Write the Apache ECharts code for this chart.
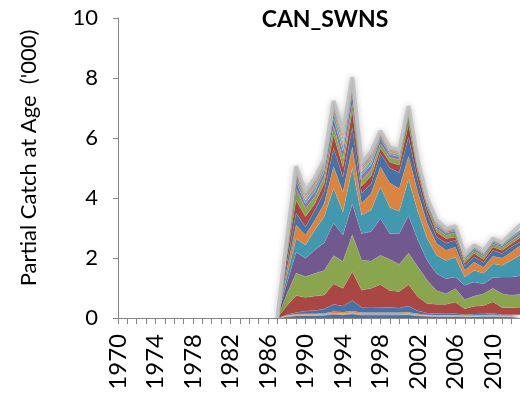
<!DOCTYPE html>
<html>
<head>
<meta charset="utf-8">
<script src="https://cdn.jsdelivr.net/npm/echarts@6/dist/echarts.min.js"></script>
<style>
  html, body { margin: 0; padding: 0; background: #fff; }
  #chart { width: 520px; height: 399px; }
</style>
</head>
<body>
<div id="chart"></div>
<script>
// Partial catch at age ('000 fish), Canada - SW Nova Scotia, by year
const title = 'CAN_SWNS';
const yAxisTitle = "Partial Catch at Age  ('000)";
const firstYear = 1970;
const lastYear = 2013;
const firstDataYear = 1987;   // age values below run 1987 .. 2013

const yTicks = { min: 0, max: 10, step: 2 };

const age1  = [0, 0.04, 0.07, 0.08, 0.08, 0.09, 0.12, 0.11, 0.13, 0.10, 0.10, 0.10, 0.10, 0.10, 0.11, 0.07, 0.06, 0.05, 0.05, 0.05, 0.04, 0.04, 0.05, 0.05, 0.04, 0.04, 0.04];
const age2  = [0, 0.01, 0.01, 0.01, 0.01, 0.01, 0.02, 0.01, 0.02, 0.01, 0.01, 0.01, 0.01, 0.01, 0.01, 0.01, 0.01, 0.01, 0.01, 0.01, 0, 0.01, 0.01, 0.01, 0, 0, 0.01];
const age3  = [0, 0.01, 0.01, 0.01, 0.01, 0.01, 0.01, 0.01, 0.01, 0.01, 0.01, 0.01, 0.01, 0.01, 0.01, 0.01, 0.01, 0, 0.01, 0.01, 0.01, 0.01, 0, 0.01, 0.01, 0.01, 0.01];
const age4  = [0, 0, 0.01, 0.01, 0.01, 0.01, 0.01, 0.01, 0.01, 0.01, 0.01, 0.01, 0.01, 0.01, 0.01, 0.01, 0, 0.01, 0, 0.01, 0.01, 0, 0.01, 0.01, 0.01, 0.01, 0];
const age5  = [0, 0.01, 0.01, 0.01, 0.01, 0.01, 0.01, 0.01, 0.01, 0.01, 0.01, 0.01, 0.01, 0.01, 0.01, 0.01, 0.01, 0.01, 0.01, 0, 0.01, 0.01, 0.01, 0.01, 0.01, 0.01, 0.01];
const age6  = [0, 0.01, 0.02, 0.02, 0.02, 0.03, 0.05, 0.05, 0.05, 0.04, 0.04, 0.04, 0.04, 0.04, 0.04, 0.03, 0.02, 0.02, 0.02, 0.02, 0.02, 0.02, 0.02, 0.02, 0.02, 0.02, 0.02];
const age7  = [0, 0.03, 0.05, 0.09, 0.11, 0.14, 0.24, 0.20, 0.35, 0.18, 0.19, 0.18, 0.17, 0.15, 0.21, 0.10, 0.06, 0.05, 0.04, 0.05, 0.02, 0.04, 0.04, 0.05, 0.02, 0.02, 0.02];
const age8  = [0, 0.30, 0.57, 0.46, 0.48, 0.47, 0.68, 0.59, 0.97, 0.57, 0.62, 0.76, 0.57, 0.55, 0.72, 0.47, 0.31, 0.31, 0.32, 0.38, 0.20, 0.26, 0.28, 0.38, 0.24, 0.24, 0.25];
const age9  = [0, 0.38, 0.75, 0.69, 0.76, 0.81, 0.94, 0.90, 1.23, 1.00, 0.91, 0.97, 1.04, 0.91, 1.05, 1.00, 0.78, 0.46, 0.35, 0.45, 0.31, 0.34, 0.39, 0.45, 0.46, 0.41, 0.44];
const age10 = [0, 0.36, 0.70, 0.61, 0.78, 0.93, 1.09, 0.88, 1.03, 0.89, 0.98, 1.23, 0.86, 1.02, 1.25, 0.89, 0.66, 0.56, 0.50, 0.39, 0.47, 0.47, 0.33, 0.36, 0.56, 0.61, 0.61];
const age11 = [0, 0.24, 0.45, 0.44, 0.66, 0.87, 1.16, 0.77, 1.20, 0.61, 0.72, 1.06, 0.87, 0.75, 1.21, 0.95, 0.73, 0.61, 0.61, 0.66, 0.28, 0.39, 0.35, 0.46, 0.39, 0.56, 0.70];
const age12 = [0, 0.22, 0.45, 0.34, 0.34, 0.44, 0.72, 0.67, 0.70, 0.39, 0.56, 0.66, 0.81, 0.76, 0.77, 0.63, 0.50, 0.39, 0.34, 0.34, 0.22, 0.28, 0.20, 0.25, 0.24, 0.28, 0.32];
const age13 = [0, 0.20, 0.40, 0.27, 0.33, 0.39, 0.62, 0.50, 0.65, 0.34, 0.31, 0.45, 0.50, 0.53, 0.65, 0.39, 0.33, 0.22, 0.24, 0.22, 0.15, 0.17, 0.16, 0.20, 0.15, 0.17, 0.13];
const age14 = [0, 0.21, 0.43, 0.34, 0.22, 0.28, 0.44, 0.33, 0.55, 0.24, 0.26, 0.17, 0.20, 0.25, 0.40, 0.25, 0.17, 0.17, 0.15, 0.11, 0.10, 0.12, 0.10, 0.11, 0.11, 0.10, 0.15];
const age15 = [0, 0.18, 0.37, 0.28, 0.22, 0.22, 0.28, 0.28, 0.25, 0.20, 0.20, 0.16, 0.15, 0.18, 0.25, 0.17, 0.11, 0.11, 0.11, 0.13, 0.10, 0.08, 0.10, 0.10, 0.10, 0.10, 0.09];
const age16 = [0, 0.11, 0.24, 0.16, 0.18, 0.17, 0.26, 0.26, 0.27, 0.16, 0.18, 0.15, 0.10, 0.10, 0.13, 0.08, 0.07, 0.08, 0.07, 0.07, 0.05, 0.06, 0.06, 0.05, 0.05, 0.08, 0.10];
const age17 = [0, 0.08, 0.16, 0.12, 0.14, 0.12, 0.18, 0.19, 0.18, 0.12, 0.13, 0.08, 0.07, 0.07, 0.07, 0.06, 0.05, 0.06, 0.05, 0.05, 0.04, 0.04, 0.04, 0.04, 0.04, 0.06, 0.07];
const age18 = [0, 0.06, 0.13, 0.10, 0.11, 0.10, 0.14, 0.15, 0.15, 0.10, 0.10, 0.07, 0.06, 0.06, 0.06, 0.04, 0.04, 0.05, 0.04, 0.04, 0.03, 0.03, 0.03, 0.03, 0.03, 0.04, 0.06];
const age19 = [0, 0.05, 0.10, 0.07, 0.08, 0.08, 0.12, 0.12, 0.12, 0.08, 0.08, 0.05, 0.04, 0.04, 0.05, 0.04, 0.03, 0.04, 0.03, 0.03, 0.02, 0.03, 0.03, 0.03, 0.02, 0.03, 0.04];
const age20 = [0, 0.04, 0.08, 0.06, 0.06, 0.06, 0.09, 0.10, 0.09, 0.06, 0.07, 0.04, 0.03, 0.03, 0.03, 0.02, 0.02, 0.03, 0.02, 0.02, 0.02, 0.02, 0.02, 0.02, 0.01, 0.02, 0.03];
const age21 = [0, 0.03, 0.05, 0.04, 0.05, 0.04, 0.06, 0.07, 0.06, 0.04, 0.05, 0.02, 0.03, 0.02, 0.02, 0.02, 0.01, 0.02, 0.01, 0.02, 0.01, 0.01, 0.01, 0.01, 0.01, 0.02, 0.02];

const ages = [age1, age2, age3, age4, age5, age6, age7, age8, age9, age10, age11,
              age12, age13, age14, age15, age16, age17, age18, age19, age20, age21];

// Office-style six-colour cycle, lighter tints for the oldest ages
const palette = [
  '#4572A7', '#AA4643', '#89A54E', '#71588F', '#4198AF', '#DB843D',
  '#4572A7', '#AA4643', '#89A54E', '#71588F', '#4198AF', '#DB843D',
  '#4572A7', '#AA4643', '#89A54E', '#8C76AA', '#5FB0C6', '#E89B5C',
  '#93A9CF', '#D19392', '#B9CD96'
];

const FONT = 'Lato, "Open Sans", sans-serif';
const AXIS_GREY = '#868686';

const years = [];
for (let y = firstYear; y <= lastYear; y++) years.push(String(y));
const lead = firstDataYear - firstYear;

const series = ages.map((vals, i) => {
  const isTop = i === ages.length - 1;
  return {
    name: 'Age ' + (i + 1),
    type: 'line',
    stack: 'catch',
    symbol: 'none',
    data: new Array(lead).fill(null).concat(vals),
    itemStyle: { color: palette[i] },
    areaStyle: { color: palette[i], opacity: 1 },
    lineStyle: isTop
      ? { color: 'rgba(190,190,190,0.85)', width: 4, shadowBlur: 6, shadowColor: 'rgba(0,0,0,0.3)' }
      : { color: 'rgba(255,255,255,0.35)', width: 0.6 },
    z: 2 + i * 0.01
  };
});

const chart = echarts.init(document.getElementById('chart'), null, { renderer: 'canvas' });
chart.setOption({
  animation: false,
  backgroundColor: '#ffffff',
  title: {
    text: title,
    left: 320,
    top: 3,
    textAlign: 'center',
    textStyle: { fontFamily: FONT, fontSize: 23, fontWeight: 'bold', color: '#000' }
  },
  grid: { left: 118, right: -1, top: 18, bottom: 81, containLabel: false, outerBoundsMode: 'none' },
  xAxis: {
    type: 'category',
    data: years,
    boundaryGap: false,
    axisLine: { lineStyle: { color: AXIS_GREY, width: 1 } },
    axisTick: { show: true, interval: 0, length: 6, lineStyle: { color: AXIS_GREY } },
    axisLabel: { interval: 3, rotate: 90, margin: 16, fontFamily: FONT, fontSize: 24, color: '#000' },
    splitLine: { show: false }
  },
  yAxis: {
    type: 'value',
    min: yTicks.min,
    max: yTicks.max,
    interval: yTicks.step,
    axisLine: { show: true, lineStyle: { color: AXIS_GREY, width: 1 } },
    axisTick: { show: true, length: 5, lineStyle: { color: AXIS_GREY } },
    axisLabel: { margin: 20, fontFamily: FONT, fontSize: 22, color: '#000' },
    splitLine: { show: false },
    name: yAxisTitle,
    nameLocation: 'middle',
    nameGap: 78,
    nameTextStyle: { fontFamily: FONT, fontSize: 22, color: '#000', padding: [0, 0, 0, 20] }
  },
  series: series
});
</script>
</body>
</html>
